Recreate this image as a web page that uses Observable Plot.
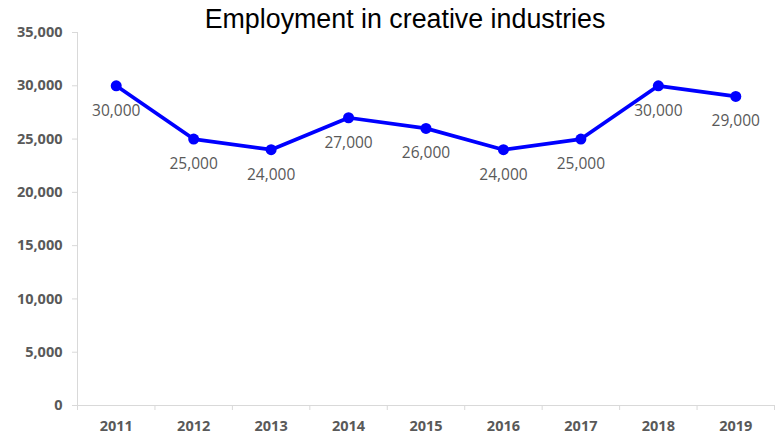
<!DOCTYPE html>
<html>
<head>
<meta charset="utf-8">
<script src="https://cdn.jsdelivr.net/npm/d3@7"></script>
<script src="https://cdn.jsdelivr.net/npm/@observablehq/plot@0.6"></script>
<style>
  body { margin: 0; background: #fff; }
  #wrap { position: relative; width: 782px; height: 436px; }
  #title { position: absolute; left: 14px; width: 782px; top: 4px; text-align: center; line-height: 1.15;
           font-family: "Liberation Sans", Arial, sans-serif; font-size: 26.8px; color: #000; }
</style>
</head>
<body>
<div id="wrap">
  <div id="chart"></div>
  <div id="title">Employment in creative industries</div>
</div>
<script>
const years = [2011, 2012, 2013, 2014, 2015, 2016, 2017, 2018, 2019];
const employment = [30000, 25000, 24000, 27000, 26000, 24000, 25000, 30000, 29000];
const yTicks = [0, 5000, 10000, 15000, 20000, 25000, 30000, 35000];

const data = years.map((y, i) => ({year: y, value: employment[i]}));
const boundaries = [years[0] - 0.5, ...years.map(y => y + 0.5)];
const fmt = d3.format(",");
const grey = "#595959";
const axisGrey = "#d9d9d9";

const chart = Plot.plot({
  width: 782,
  height: 436,
  marginTop: 32,
  marginBottom: 31,
  marginLeft: 77,
  marginRight: 8,
  style: {fontFamily: "'Open Sans', sans-serif", background: "#fff"},
  x: {domain: [years[0] - 0.5, years[years.length - 1] + 0.5], axis: null},
  y: {domain: [0, 35000], axis: null},
  marks: [
    Plot.ruleY([0], {stroke: axisGrey, strokeWidth: 1}),
    Plot.ruleX([boundaries[0]], {stroke: axisGrey, strokeWidth: 1}),
    Plot.axisY({ticks: yTicks, tickSize: 5, tickPadding: 10, stroke: axisGrey, tickFormat: fmt,
      fill: grey, fontSize: 14.5, fontWeight: "bold", label: null}),
    Plot.axisX({ticks: years, tickSize: 0, tickPadding: 15, tickFormat: d => String(d),
      fill: grey, fontSize: 14.5, fontWeight: "bold", label: null}),
    Plot.ruleX(boundaries, {x: d => d, y1: 0, y2: 0, insetBottom: -5, stroke: axisGrey}),
    Plot.line(data, {x: "year", y: "value", stroke: "#0000ff", strokeWidth: 3.75}),
    Plot.dot(data, {x: "year", y: "value", fill: "#0000ff", r: 5.5}),
    Plot.text(data, {x: "year", y: "value", text: d => fmt(d.value), dy: 25,
      fill: grey, fontSize: 15.5})
  ]
});
document.getElementById("chart").appendChild(chart);
</script>
</body>
</html>
